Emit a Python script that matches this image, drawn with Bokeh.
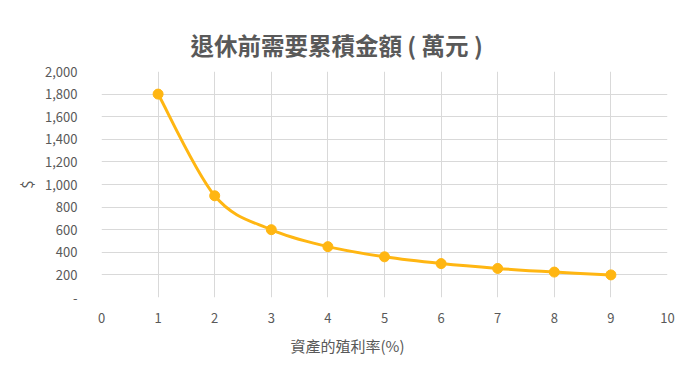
from bokeh.plotting import figure
from bokeh.models import ColumnDataSource, FixedTicker, NumeralTickFormatter, Range1d, Title
from bokeh.embed import file_html
from bokeh.resources import INLINE

title_text = "退休前需要累積金額 (  萬元  )"
x_label = "資產的殖利率(%)"
y_label = "$"
yield_pct = [1, 2, 3, 4, 5, 6, 7, 8, 9]
amount = [1800, 900, 600, 450, 360, 300, 257, 225, 200]

COLOR = "#FFB612"
GRID = "#D9D9D9"
TEXT = "#595959"
FONT = "Noto Sans CJK TC"

p = figure(width=696, height=379, output_backend="svg", toolbar_location=None,
           x_range=Range1d(0, 10), y_range=Range1d(0, 2000),
           min_border_left=101, min_border_right=29, min_border_top=71, min_border_bottom=82)
p.outline_line_color = None
p.background_fill_color = "white"
p.border_fill_color = "white"

t = Title(text=title_text, align="left", offset=89, text_font=FONT, text_font_size="23.5px",
          text_font_style="bold", text_color=TEXT, standoff=19)
p.add_layout(t, "above")

# Smooth curve through points (Catmull-Rom -> cubic Bezier)
n = len(yield_pct)
x0, y0, x1, y1, cx0, cy0, cx1, cy1 = [], [], [], [], [], [], [], []
for i in range(n - 1):
    pm = (yield_pct[max(i - 1, 0)], amount[max(i - 1, 0)])
    pa = (yield_pct[i], amount[i])
    pb = (yield_pct[i + 1], amount[i + 1])
    pp = (yield_pct[min(i + 2, n - 1)], amount[min(i + 2, n - 1)])
    x0.append(pa[0]); y0.append(pa[1]); x1.append(pb[0]); y1.append(pb[1])
    cx0.append(pa[0] + (pb[0] - pm[0]) / 6); cy0.append(pa[1] + (pb[1] - pm[1]) / 6)
    cx1.append(pb[0] - (pp[0] - pa[0]) / 6); cy1.append(pb[1] - (pp[1] - pa[1]) / 6)
bsrc = ColumnDataSource(dict(x0=x0, y0=y0, x1=x1, y1=y1, cx0=cx0, cy0=cy0, cx1=cx1, cy1=cy1))
p.bezier(x0="x0", y0="y0", x1="x1", y1="y1", cx0="cx0", cy0="cy0", cx1="cx1", cy1="cy1",
         source=bsrc, line_color=COLOR, line_width=3)

src = ColumnDataSource(dict(x=yield_pct, y=amount))
p.scatter("x", "y", source=src, size=10, fill_color=COLOR, line_color=COLOR)

p.xaxis.ticker = FixedTicker(ticks=list(range(0, 11)))
p.yaxis.ticker = FixedTicker(ticks=list(range(0, 2001, 200)))
p.yaxis.formatter = NumeralTickFormatter(format="0,0")
p.yaxis.major_label_overrides = {0: "-"}

for ax in (p.xaxis[0], p.yaxis[0]):
    ax.axis_line_color = None
    ax.major_tick_line_color = None
    ax.minor_tick_line_color = None
    ax.major_label_text_font = FONT
    ax.major_label_text_font_size = "13px"
    ax.major_label_text_color = TEXT
    ax.axis_label_text_font = FONT
    ax.axis_label_text_font_size = "15px"
    ax.axis_label_text_color = TEXT
    ax.axis_label_text_font_style = "normal"

p.yaxis.axis_label = y_label
p.xaxis.major_label_standoff = 9
p.yaxis.major_label_standoff = 18
p.yaxis.axis_label_standoff = 5

xt = Title(text=x_label, align="left", offset=189, text_font=FONT, text_font_size="15px",
           text_font_style="normal", text_color=TEXT, standoff=14)
p.add_layout(xt, "below")

p.xgrid.grid_line_color = GRID
p.ygrid.grid_line_color = GRID
p.xgrid.ticker = FixedTicker(ticks=list(range(0, 11)))
p.ygrid.ticker = FixedTicker(ticks=list(range(0, 2001, 200)))

open("out.html", "w").write(file_html(p, INLINE))
